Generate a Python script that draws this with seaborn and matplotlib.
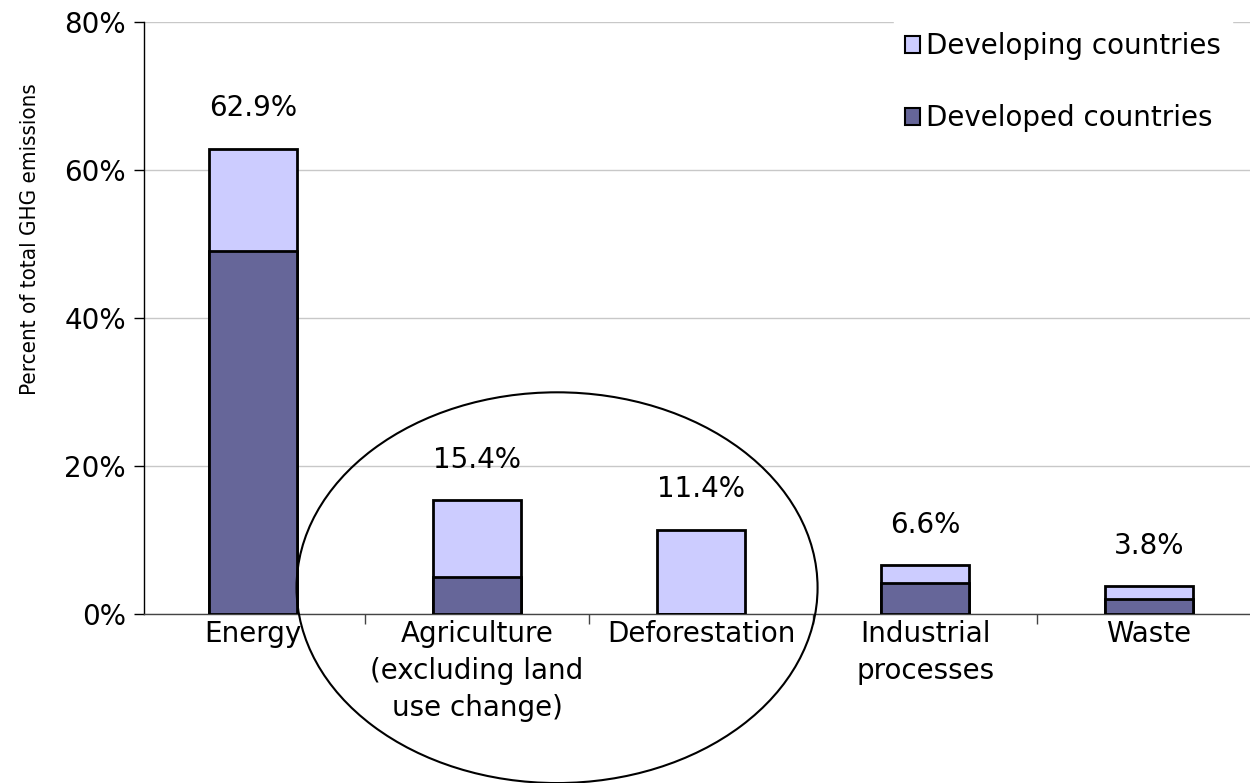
import matplotlib
matplotlib.use("Agg")
import matplotlib.pyplot as plt
from matplotlib.patches import Ellipse, Patch
from matplotlib.ticker import FixedLocator, PercentFormatter
import seaborn as sns
import pandas as pd

# Share of total greenhouse-gas emissions by sector (%)
sectors = ["Energy", "Agriculture\n(excluding land\nuse change)", "Deforestation",
           "Industrial\nprocesses", "Waste"]
developed = [49.1, 5.0, 0.0, 4.2, 2.0]
totals = [62.9, 15.4, 11.4, 6.6, 3.8]
total_labels = ["62.9%", "15.4%", "11.4%", "6.6%", "3.8%"]

series_names = ["Developing countries", "Developed countries"]
c_developing = "#ccccff"
c_developed = "#666699"

df = pd.DataFrame({"sector": sectors, "developed": developed, "total": totals})

sns.set_theme(style="white")
plt.rcParams["font.family"] = ["DejaVu Sans"]
plt.rcParams["font.size"] = 20
plt.rcParams["text.color"] = "black"
plt.rcParams["xtick.color"] = "black"
plt.rcParams["ytick.color"] = "black"

FS = 20

fig = plt.figure(figsize=(12.5, 7.83), dpi=100)
ax = fig.add_axes([0.1152, 0.2158, 0.896, 0.7561])

# Stacked bars: full total in the light colour, developed share on top of it
sns.barplot(data=df, x="sector", y="total", color=c_developing, width=0.39,
            edgecolor="black", linewidth=2, saturation=1, ax=ax, zorder=3)
sns.barplot(data=df, x="sector", y="developed", color=c_developed, width=0.39,
            edgecolor="black", linewidth=2, saturation=1, ax=ax, zorder=4)

ax.set_ylim(0, 80)
ax.set_xlim(-0.487, 4.513)
ax.yaxis.set_major_locator(FixedLocator([0, 20, 40, 60, 80]))
ax.yaxis.set_major_formatter(PercentFormatter(decimals=0))
ax.grid(axis="y", color="#c8c8c8", linewidth=1, zorder=0)
ax.set_axisbelow(True)

# Category separators as minor ticks, no major tick marks on x
ax.xaxis.set_minor_locator(FixedLocator([0.5, 1.5, 2.5, 3.5]))
ax.tick_params(axis="x", which="major", length=0, pad=4, labelsize=FS, labelcolor="black")
ax.tick_params(axis="x", which="minor", bottom=True, length=7, width=1, color="#444444", direction="out")
ax.tick_params(axis="y", which="major", left=True, length=7, width=1, color="black", direction="out",
               labelsize=FS, labelcolor="black", pad=6)
for lbl in ax.get_xticklabels():
    lbl.set_linespacing(1.42)
    lbl.set_verticalalignment("top")

for side in ["top", "right"]:
    ax.spines[side].set_visible(False)
ax.spines["left"].set_color("black")
ax.spines["left"].set_linewidth(1)
ax.spines["bottom"].set_color("#444444")
ax.spines["bottom"].set_linewidth(1)

ax.set_xlabel("")
ax.set_ylabel("")
fig.text(0.024, 0.695, "Percent of total GHG emissions", rotation=90, ha="center", va="center",
         fontsize=16, fontstretch="condensed", family="DejaVu Sans")

# Total value above each bar
for i, (v, txt) in enumerate(zip(totals, total_labels)):
    ax.annotate(txt, xy=(i, v), xytext=(0, 29), textcoords="offset points",
                ha="center", va="center", fontsize=FS)

# Ring around the land-use sectors
ax.add_patch(Ellipse((1.357, 3.56), width=2.326, height=52.8, fill=False,
                     edgecolor="black", linewidth=1.5, clip_on=False, zorder=5))

handles = [Patch(facecolor=c_developing, edgecolor="black", linewidth=1.5),
           Patch(facecolor=c_developed, edgecolor="black", linewidth=1.5)]
leg = fig.legend(handles, series_names, loc="upper left", bbox_to_anchor=(0.704, 0.991),
                 frameon=True, fancybox=False, framealpha=1, edgecolor="white",
                 fontsize=FS, handlelength=0.55, handleheight=0.55, handletextpad=0.2,
                 labelspacing=1.6, borderpad=0.4)

fig.savefig("out.png", dpi=100, facecolor="white")
